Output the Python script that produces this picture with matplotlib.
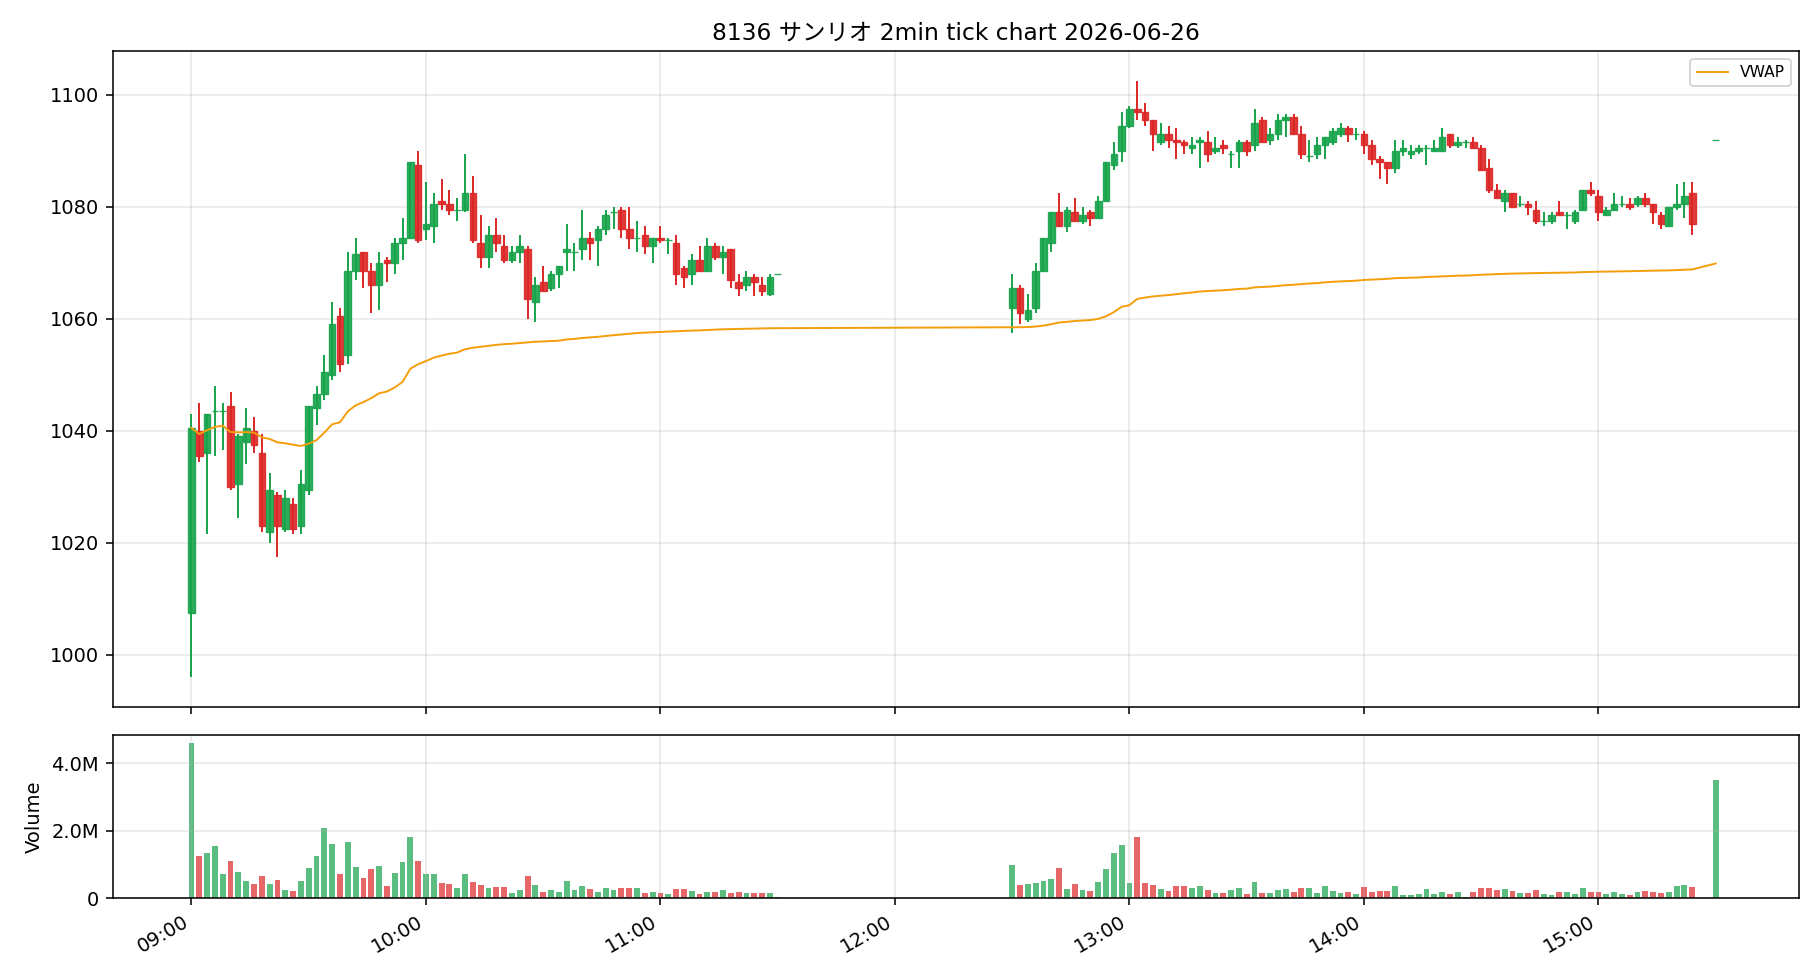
import numpy as np
import pandas as pd
import matplotlib
matplotlib.use("Agg")
import matplotlib.pyplot as plt
import matplotlib.dates as mdates
from matplotlib.ticker import FuncFormatter

plt.rcParams['font.family'] = ['DejaVu Sans', 'Noto Sans CJK JP']

day = "2026-06-26"
# 2-minute bars: morning session, afternoon session, closing auction
times = (list(pd.date_range(day + " 09:00", day + " 11:30", freq="2min"))
         + list(pd.date_range(day + " 12:30", day + " 15:24", freq="2min"))
         + [pd.Timestamp(day + " 15:30")])

opens = [
    1007.5, 1040.0, 1036.0, 1043.5, 1043.5, 1044.5, 1030.5, 1038.0, 1040.0, 1036.0,
    1022.0, 1028.5, 1022.5, 1027.0, 1023.0, 1029.5, 1044.0, 1046.5, 1050.0, 1060.5,
    1053.5, 1068.5, 1072.0, 1068.5, 1066.0, 1070.5, 1070.0, 1073.5, 1074.5, 1087.5,
    1076.0, 1076.5, 1081.0, 1080.5, 1079.5, 1079.5, 1082.5, 1073.5, 1071.0, 1075.0,
    1073.0, 1070.5, 1072.0, 1072.5, 1063.0, 1066.5, 1065.5, 1068.0, 1072.0, 1072.0,
    1072.5, 1074.5, 1074.0, 1076.0, 1079.0, 1079.5, 1076.0, 1074.5, 1075.0, 1073.0,
    1074.5, 1074.0, 1073.5, 1069.0, 1068.0, 1070.5, 1068.5, 1073.0, 1071.0, 1072.5,
    1066.5, 1066.0, 1067.5, 1066.0, 1064.5, 1068.0,
    1062.0, 1065.5, 1060.0, 1062.0, 1068.5, 1073.5, 1079.0, 1076.5, 1079.0, 1077.5,
    1079.0, 1078.0, 1081.0, 1087.5, 1090.0, 1094.5, 1097.5, 1097.0, 1095.5, 1091.5,
    1093.0, 1092.0, 1091.5, 1090.5, 1091.5, 1091.5, 1090.0, 1091.0, 1089.5, 1090.0,
    1091.5, 1091.0, 1095.5, 1092.0, 1093.0, 1095.5, 1096.0, 1093.0, 1089.0, 1089.5,
    1091.0, 1091.5, 1093.0, 1094.0, 1093.0, 1093.0, 1091.0, 1088.5, 1088.0, 1087.0,
    1090.0, 1089.5, 1090.0, 1090.5, 1090.0, 1090.0, 1093.0, 1091.0, 1091.5, 1091.5,
    1090.5, 1087.0, 1083.0, 1081.0, 1082.5, 1080.5, 1080.5, 1079.5, 1077.5, 1077.5,
    1079.0, 1078.5, 1077.5, 1079.5, 1083.0, 1082.0, 1078.5, 1079.5, 1080.5, 1080.5,
    1080.5, 1081.5, 1080.5, 1078.5, 1076.5, 1080.0, 1080.5, 1082.5,
    1092.0,
]
highs = [
    1043.0, 1045.0, 1043.0, 1048.0, 1045.0, 1047.0, 1039.5, 1044.0, 1042.5, 1039.5,
    1032.5, 1029.0, 1029.5, 1028.0, 1033.0, 1044.5, 1048.0, 1053.5, 1063.0, 1062.0,
    1072.0, 1074.5, 1072.0, 1070.0, 1072.0, 1071.0, 1074.5, 1078.0, 1088.0, 1090.0,
    1084.5, 1082.5, 1085.0, 1083.0, 1081.5, 1089.5, 1085.5, 1078.5, 1076.5, 1078.0,
    1075.0, 1073.0, 1075.0, 1073.0, 1067.5, 1069.5, 1068.5, 1069.5, 1077.0, 1073.5,
    1079.5, 1075.5, 1076.5, 1079.5, 1080.0, 1080.0, 1080.0, 1077.5, 1076.5, 1074.5,
    1076.5, 1074.5, 1075.0, 1069.5, 1071.5, 1073.0, 1074.5, 1073.5, 1073.0, 1072.5,
    1068.0, 1068.5, 1068.0, 1067.5, 1068.0, 1068.0,
    1068.0, 1066.0, 1064.5, 1070.0, 1074.5, 1079.0, 1082.5, 1080.0, 1081.5, 1080.0,
    1079.5, 1082.0, 1088.0, 1091.5, 1097.0, 1098.0, 1102.5, 1098.5, 1095.5, 1095.0,
    1094.5, 1094.0, 1092.0, 1092.5, 1092.5, 1093.5, 1092.5, 1092.0, 1090.0, 1092.0,
    1092.0, 1097.5, 1096.0, 1094.0, 1096.5, 1096.5, 1096.5, 1094.5, 1092.0, 1092.5,
    1092.5, 1094.0, 1095.0, 1094.5, 1094.0, 1093.5, 1092.0, 1089.0, 1088.0, 1092.0,
    1092.0, 1091.0, 1091.0, 1091.0, 1092.0, 1094.0, 1093.0, 1092.5, 1092.0, 1092.5,
    1091.0, 1088.5, 1084.0, 1083.0, 1082.5, 1082.0, 1081.0, 1081.0, 1079.0, 1079.0,
    1081.0, 1079.0, 1079.5, 1083.0, 1084.5, 1083.0, 1080.0, 1082.5, 1082.0, 1081.5,
    1082.0, 1082.5, 1080.5, 1079.0, 1080.0, 1084.0, 1084.5, 1084.5,
    1092.0,
]
lows = [
    996.0, 1034.5, 1021.5, 1035.5, 1036.5, 1029.5, 1024.5, 1034.0, 1036.0, 1022.0,
    1020.0, 1017.5, 1022.0, 1021.5, 1021.5, 1028.5, 1041.0, 1045.5, 1049.0, 1050.5,
    1052.0, 1067.0, 1065.5, 1061.0, 1061.5, 1066.5, 1068.0, 1070.5, 1074.5, 1073.5,
    1074.0, 1073.5, 1079.5, 1078.5, 1077.5, 1079.0, 1073.5, 1069.0, 1069.0, 1072.0,
    1070.0, 1070.0, 1070.0, 1060.0, 1059.5, 1065.0, 1065.0, 1065.5, 1068.5, 1068.5,
    1070.5, 1070.5, 1069.5, 1075.0, 1076.0, 1074.5, 1072.5, 1072.0, 1071.5, 1070.0,
    1073.5, 1071.5, 1066.0, 1065.5, 1066.0, 1068.5, 1068.5, 1070.5, 1068.0, 1065.5,
    1064.0, 1065.0, 1064.0, 1064.0, 1064.0, 1068.0,
    1057.5, 1059.0, 1059.5, 1061.0, 1068.5, 1072.0, 1076.5, 1075.5, 1077.5, 1077.0,
    1076.5, 1078.0, 1081.0, 1086.5, 1088.0, 1094.0, 1095.5, 1094.5, 1090.0, 1091.0,
    1090.5, 1088.5, 1089.5, 1089.5, 1087.0, 1088.0, 1089.5, 1089.5, 1087.0, 1087.0,
    1089.0, 1090.0, 1091.5, 1091.0, 1092.0, 1092.5, 1093.0, 1088.5, 1088.0, 1088.5,
    1088.5, 1091.0, 1092.5, 1091.5, 1092.0, 1089.5, 1087.5, 1085.0, 1084.0, 1086.0,
    1089.0, 1088.5, 1089.5, 1087.5, 1090.0, 1090.0, 1090.5, 1090.5, 1090.5, 1090.5,
    1086.5, 1082.5, 1081.5, 1079.0, 1080.0, 1080.0, 1078.5, 1077.0, 1076.5, 1077.0,
    1078.5, 1076.0, 1077.0, 1079.5, 1082.0, 1077.5, 1078.5, 1079.5, 1080.0, 1079.5,
    1080.0, 1080.0, 1077.0, 1076.0, 1076.5, 1079.5, 1078.0, 1075.0,
    1092.0,
]
closes = [
    1040.5, 1035.5, 1043.0, 1043.5, 1043.5, 1030.0, 1039.0, 1040.5, 1037.5, 1023.0,
    1029.5, 1023.0, 1028.0, 1022.5, 1030.5, 1044.5, 1046.5, 1050.5, 1059.0, 1052.0,
    1068.5, 1071.5, 1068.5, 1066.0, 1070.0, 1070.0, 1073.5, 1074.5, 1088.0, 1074.0,
    1077.0, 1080.5, 1080.5, 1079.5, 1079.5, 1082.5, 1074.0, 1071.0, 1075.0, 1073.5,
    1070.5, 1072.0, 1073.0, 1063.5, 1066.0, 1065.0, 1068.0, 1069.5, 1072.5, 1072.0,
    1074.5, 1073.5, 1076.0, 1078.5, 1079.0, 1076.0, 1074.5, 1074.5, 1073.0, 1074.5,
    1074.0, 1074.0, 1068.0, 1067.5, 1070.5, 1068.5, 1073.0, 1071.0, 1072.0, 1067.0,
    1065.5, 1067.5, 1066.5, 1065.0, 1067.5, 1068.0,
    1065.5, 1061.0, 1061.5, 1068.5, 1074.5, 1079.0, 1076.5, 1079.5, 1077.5, 1078.5,
    1078.0, 1081.0, 1088.0, 1089.5, 1094.5, 1097.5, 1097.0, 1095.5, 1093.0, 1093.0,
    1092.0, 1091.5, 1091.0, 1091.0, 1092.0, 1089.5, 1090.5, 1090.5, 1089.5, 1091.5,
    1090.0, 1095.0, 1091.5, 1093.0, 1095.5, 1096.0, 1093.0, 1089.5, 1089.0, 1091.0,
    1092.5, 1093.5, 1094.0, 1093.0, 1093.0, 1091.0, 1088.5, 1088.0, 1087.0, 1090.0,
    1090.5, 1090.0, 1090.5, 1090.5, 1090.5, 1092.5, 1091.0, 1091.5, 1091.5, 1090.5,
    1086.5, 1083.0, 1081.5, 1082.5, 1080.0, 1080.5, 1080.0, 1077.5, 1077.5, 1078.5,
    1078.5, 1078.5, 1079.0, 1083.0, 1082.5, 1079.0, 1079.5, 1080.5, 1080.5, 1080.0,
    1081.5, 1080.5, 1079.0, 1077.0, 1080.0, 1080.5, 1082.0, 1077.0,
    1092.0,
]
volumes_m = [
    4.61, 1.27, 1.36, 1.54, 0.72, 1.10, 0.77, 0.51, 0.42, 0.66,
    0.42, 0.54, 0.25, 0.22, 0.51, 0.89, 1.25, 2.10, 1.60, 0.72,
    1.66, 0.92, 0.60, 0.86, 0.95, 0.36, 0.75, 1.07, 1.83, 1.10,
    0.72, 0.72, 0.45, 0.42, 0.30, 0.72, 0.48, 0.39, 0.30, 0.33,
    0.33, 0.16, 0.25, 0.66, 0.39, 0.19, 0.25, 0.19, 0.51, 0.25,
    0.36, 0.27, 0.19, 0.30, 0.25, 0.30, 0.30, 0.30, 0.16, 0.19,
    0.16, 0.13, 0.27, 0.27, 0.22, 0.13, 0.19, 0.19, 0.25, 0.16,
    0.19, 0.16, 0.16, 0.16, 0.16, 0.04,
    0.98, 0.39, 0.42, 0.45, 0.51, 0.57, 0.89, 0.27, 0.42, 0.25,
    0.22, 0.48, 0.86, 1.36, 1.57, 0.45, 1.83, 0.45, 0.39, 0.27,
    0.22, 0.36, 0.36, 0.30, 0.36, 0.25, 0.16, 0.16, 0.25, 0.30,
    0.13, 0.48, 0.16, 0.16, 0.25, 0.27, 0.19, 0.30, 0.30, 0.16,
    0.36, 0.22, 0.16, 0.19, 0.13, 0.33, 0.19, 0.22, 0.22, 0.36,
    0.10, 0.10, 0.13, 0.27, 0.13, 0.19, 0.13, 0.19, 0.04, 0.19,
    0.30, 0.30, 0.25, 0.27, 0.22, 0.16, 0.16, 0.25, 0.13, 0.10,
    0.19, 0.19, 0.13, 0.30, 0.19, 0.19, 0.13, 0.19, 0.13, 0.10,
    0.19, 0.22, 0.19, 0.16, 0.19, 0.36, 0.39, 0.33,
    3.51,
]

o = np.array(opens)
h = np.array(highs)
l = np.array(lows)
c = np.array(closes)
vol = np.array(volumes_m) * 1e6
x = mdates.date2num(times)

up_col = '#16a34a'
dn_col = '#dc2626'
colors = [up_col if cc >= oo else dn_col for oo, cc in zip(o, c)]

# VWAP from close price
vwap = np.cumsum(c * vol) / np.cumsum(vol)

fig = plt.figure(figsize=(13, 7), dpi=140)
ax1 = fig.add_axes([0.0619, 0.2786, 0.9266, 0.6694])
ax2 = fig.add_axes([0.0619, 0.0832, 0.9266, 0.1668], sharex=ax1)

bar_w = 1.7 / 1440
ax1.vlines(x, l, h, colors=colors, linewidth=1.0, zorder=2)
ax1.bar(x, c - o, bottom=o, width=bar_w, color=colors, edgecolor=colors,
        linewidth=0.7, alpha=0.9, zorder=3)
ax1.plot(x, vwap, color='#f59e0b', linewidth=1.0, label='VWAP', zorder=4)
ax1.legend(loc='upper right', fontsize=8)
ax1.grid(True, alpha=0.3)
ax1.set_title("8136 サンリオ 2min tick chart 2026-06-26", fontsize=12)
plt.setp(ax1.get_xticklabels(), visible=False)

ax2.bar(x, vol, width=1.5 / 1440, color=colors, alpha=0.7)
ax2.set_ylabel("Volume")
ax2.grid(True, alpha=0.3)
ax2.yaxis.set_major_formatter(FuncFormatter(lambda v, p: "0" if v == 0 else f"{v/1e6:.1f}M"))
ax2.set_yticks([0, 2e6, 4e6])

ax2.xaxis.set_major_locator(mdates.HourLocator())
ax2.xaxis.set_major_formatter(mdates.DateFormatter('%H:%M'))
ax1.set_xlim(mdates.date2num(pd.Timestamp(day + " 08:39:50")),
             mdates.date2num(pd.Timestamp(day + " 15:51:20")))
for lab in ax2.get_xticklabels():
    lab.set_rotation(30)
    lab.set_ha('right')

fig.savefig("out.png", dpi=140)
